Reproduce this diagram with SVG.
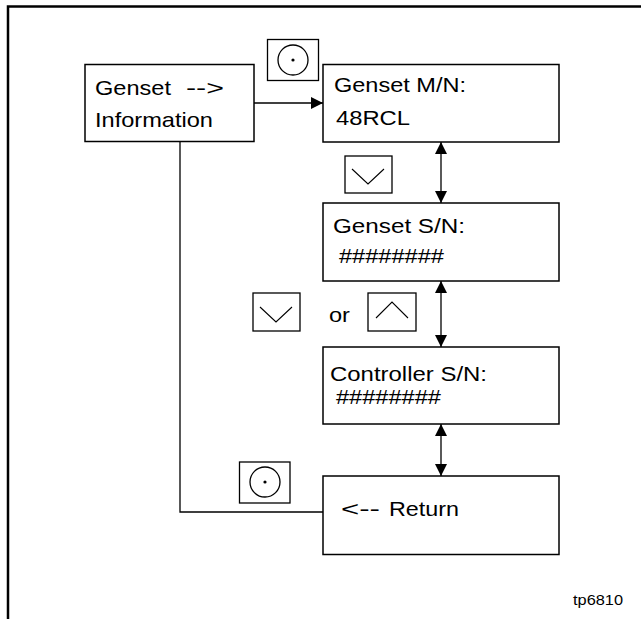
<svg xmlns="http://www.w3.org/2000/svg" width="641" height="619" viewBox="0 0 641 619">
<defs>
<style>
.box{fill:#fff;stroke:#000;stroke-width:1.5}
.btn{fill:#fff;stroke:#000;stroke-width:1.3}
.chev{fill:none;stroke:#000;stroke-width:1.1}
.con{fill:none;stroke:#000;stroke-width:1.3}
.t{font-family:"Liberation Sans",Arial,Helvetica,sans-serif;font-size:21px;fill:#000}
.s{font-family:"Liberation Sans",Arial,Helvetica,sans-serif;font-size:15px;fill:#000}
</style>
<marker id="ah" markerUnits="userSpaceOnUse" viewBox="0 0 12 12" refX="12" refY="6" markerWidth="12" markerHeight="12" orient="auto-start-reverse">
<path d="M0,0 L12,6 L0,12 z" fill="#000"/>
</marker>
</defs>
<rect width="641" height="619" fill="#fff"/>
<g id="frame">
<path d="M8,619 V6.5 H641" fill="none" stroke="#000" stroke-width="2.5"/>
</g>
<g id="connectors">
<line class="con" x1="254" y1="103" x2="323" y2="103" marker-end="url(#ah)"/>
<line class="con" x1="441" y1="142" x2="441" y2="203" marker-start="url(#ah)" marker-end="url(#ah)"/>
<line class="con" x1="441" y1="281" x2="441" y2="347" marker-start="url(#ah)" marker-end="url(#ah)"/>
<line class="con" x1="441" y1="424" x2="441" y2="476" marker-start="url(#ah)" marker-end="url(#ah)"/>
<path class="con" d="M180,141 V512 H323"/>
</g>
<g id="node-info">
<rect class="box" x="85" y="64.5" width="169" height="77"/>
<text class="t" x="95" y="95" textLength="76" lengthAdjust="spacingAndGlyphs">Genset</text>
<text class="t" x="186" y="95" textLength="38" lengthAdjust="spacingAndGlyphs">--&gt;</text>
<text class="t" x="95" y="127" textLength="118" lengthAdjust="spacingAndGlyphs">Information</text>
</g>
<g id="node-mn">
<rect class="box" x="323" y="64.5" width="236" height="77.5"/>
<text class="t" x="334" y="92" textLength="132" lengthAdjust="spacingAndGlyphs">Genset M/N:</text>
<text class="t" x="336" y="125" textLength="74" lengthAdjust="spacingAndGlyphs">48RCL</text>
</g>
<g id="node-sn">
<rect class="box" x="323" y="203" width="236" height="78"/>
<text class="t" x="333" y="233" textLength="132" lengthAdjust="spacingAndGlyphs">Genset S/N:</text>
<text class="t" x="339" y="263" textLength="105" lengthAdjust="spacingAndGlyphs">########</text>
</g>
<g id="node-ctrl">
<rect class="box" x="323" y="347" width="236" height="77"/>
<text class="t" x="330" y="381" textLength="157" lengthAdjust="spacingAndGlyphs">Controller S/N:</text>
<text class="t" x="336" y="404" textLength="105" lengthAdjust="spacingAndGlyphs">########</text>
</g>
<g id="node-return">
<rect class="box" x="323" y="476" width="236" height="78.5"/>
<text class="t" x="341" y="516" textLength="39" lengthAdjust="spacingAndGlyphs">&lt;--</text>
<text class="t" x="389" y="516" textLength="70" lengthAdjust="spacingAndGlyphs">Return</text>
</g>
<g id="btn-select-1">
<rect class="btn" x="267.5" y="39.5" width="51" height="41"/>
<circle cx="293" cy="60" r="15" fill="none" stroke="#000" stroke-width="1.3"/>
<circle cx="293" cy="60" r="1.6" fill="#000"/>
</g>
<g id="btn-down-1">
<rect class="btn" x="345" y="156" width="47" height="37"/>
<polyline class="chev" points="352,169 368,184 384,169"/>
</g>
<g id="btn-down-2">
<rect class="btn" x="253" y="293" width="47" height="38"/>
<polyline class="chev" points="260,307 276,322 292,307"/>
</g>
<g id="label-or">
<text class="t" x="329" y="322" textLength="21" lengthAdjust="spacingAndGlyphs">or</text>
</g>
<g id="btn-up">
<rect class="btn" x="368" y="293" width="48" height="38"/>
<polyline class="chev" points="376,318 392,302 408,318"/>
</g>
<g id="btn-select-2">
<rect class="btn" x="239.5" y="462" width="50.5" height="41"/>
<circle cx="265" cy="482" r="15" fill="none" stroke="#000" stroke-width="1.3"/>
<circle cx="265" cy="482" r="1.6" fill="#000"/>
</g>
<g id="label-tp">
<text class="s" x="573" y="605" textLength="50" lengthAdjust="spacingAndGlyphs">tp6810</text>
</g>
</svg>
